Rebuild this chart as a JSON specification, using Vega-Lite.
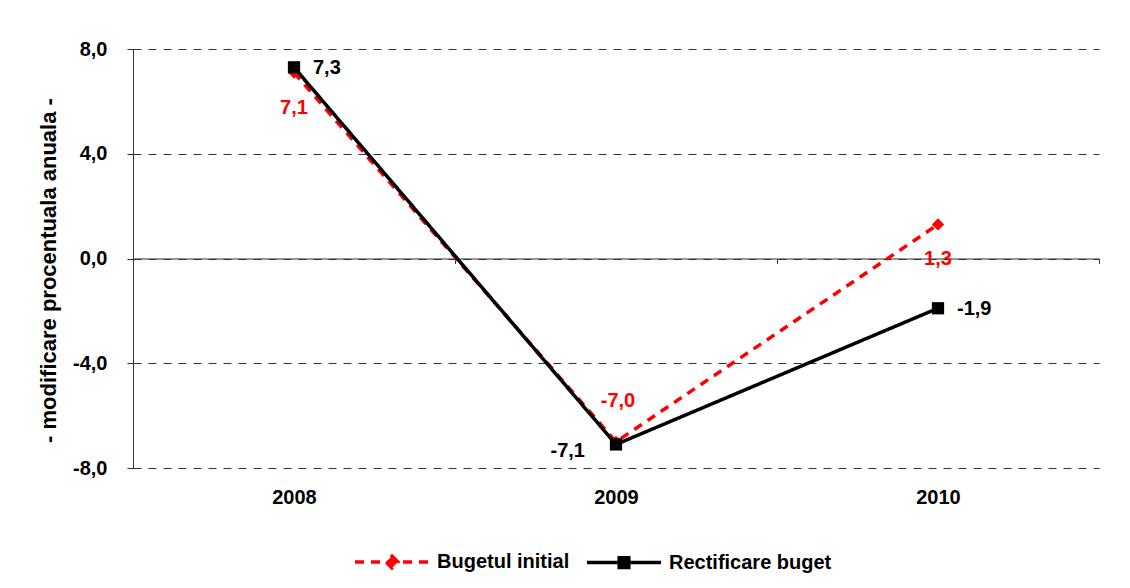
{
  "$schema": "https://vega.github.io/schema/vega-lite/v6.json",
  "autosize": "none",
  "width": 966,
  "height": 419,
  "padding": {"left": 133, "top": 49, "right": 31, "bottom": 120},
  "background": "white",
  "config": {
    "view": {"stroke": null},
    "font": "Liberation Sans",
    "locale": {"number": {"decimal": ",", "thousands": ".", "grouping": [3], "currency": ["", ""], "minus": "-"}},
    "axis": {"labelFont": "Liberation Sans", "titleFont": "Liberation Sans", "labelFontWeight": "bold", "titleFontWeight": "bold", "labelColor": "#000", "titleColor": "#000"}
  },
  "data": {
    "values": [
      {"year": "2008", "series": "Bugetul initial", "value": 7.1},
      {"year": "2009", "series": "Bugetul initial", "value": -7.0},
      {"year": "2010", "series": "Bugetul initial", "value": 1.3},
      {"year": "2008", "series": "Rectificare buget", "value": 7.3},
      {"year": "2009", "series": "Rectificare buget", "value": -7.1},
      {"year": "2010", "series": "Rectificare buget", "value": -1.9}
    ]
  },
  "encoding": {
    "x": {
      "field": "year", "type": "nominal", "title": null,
      "scale": {"type": "band", "paddingInner": 0, "paddingOuter": 0},
      "axis": {"orient": "bottom", "offset": -209.5, "labelAngle": 0, "labelFontSize": 20, "labelPadding": 224, "tickBand": "extent", "tickSize": 5, "tickColor": "#333", "domainColor": "#333", "domainWidth": 1.2, "grid": false}
    },
    "y": {
      "field": "value", "type": "quantitative",
      "title": "- modificare procentuala anuala -",
      "scale": {"domain": [-8, 8], "nice": false, "zero": false},
      "axis": {"values": [-8, -4, 0, 4, 8], "format": ".1f", "labelFontSize": 20, "labelPadding": 20, "tickSize": 6, "tickColor": "#333", "domainColor": "#333", "grid": true, "gridDash": [8, 7], "gridColor": "#333", "gridWidth": 1, "titleFont": "Liberation Sans", "titleFontSize": 22, "titlePadding": 12, "titleY": 221, "titleAlign": "center"}
    }
  },
  "layer": [
    {
      "mark": {"type": "line", "strokeWidth": 3.5},
      "encoding": {
        "color": {
          "field": "series", "type": "nominal",
          "scale": {"domain": ["Bugetul initial", "Rectificare buget"], "range": ["#ff0000", "#000000"]},
          "legend": {
            "title": null, "orient": "none", "direction": "horizontal", "legendX": 220, "legendY": 474,
            "padding": 0, "symbolSize": 5476, "symbolStrokeWidth": 3.5, "labelFont": "Liberation Sans", "labelFontWeight": "bold", "labelFontSize": 20, "labelColor": "#000", "labelOffset": 6, "columnPadding": 10, "labelLimit": 400,
            "encode": {"symbols": {"update": {
              "shape": {"signal": "datum.value === 'Bugetul initial' ? 'M-1,0H1M0,-0.16L0.16,0L0,0.16L-0.16,0Z' : 'M-1,0H1M-0.13,-0.13H0.13V0.13H-0.13Z'"},
              "fill": {"signal": "datum.value === 'Bugetul initial' ? '#ff0000' : '#000000'"}
            }}}
          }
        },
        "strokeDash": {
          "field": "series", "type": "nominal",
          "scale": {"domain": ["Bugetul initial", "Rectificare buget"], "range": [[9, 7], [1, 0]]},
          "legend": null
        }
      }
    },
    {
      "transform": [{"filter": "datum.series === 'Bugetul initial'"}],
      "mark": {"type": "point", "shape": "diamond", "filled": true, "size": 150, "color": "#ff0000", "opacity": 1}
    },
    {
      "transform": [{"filter": "datum.series === 'Rectificare buget'"}],
      "mark": {"type": "point", "shape": "square", "filled": true, "size": 150, "color": "#000000", "opacity": 1}
    },
    {
      "transform": [{"filter": "datum.series === 'Rectificare buget' && datum.year !== '2009'"}],
      "mark": {"type": "text", "align": "left", "baseline": "middle", "dx": 19, "dy": 1, "fontSize": 20, "fontWeight": "bold", "color": "#000"},
      "encoding": {"text": {"field": "value", "type": "quantitative", "format": ".1f"}}
    },
    {
      "transform": [{"filter": "datum.series === 'Rectificare buget' && datum.year === '2009'"}],
      "mark": {"type": "text", "align": "right", "baseline": "middle", "dx": -31, "dy": 7, "fontSize": 20, "fontWeight": "bold", "color": "#000"},
      "encoding": {"text": {"field": "value", "type": "quantitative", "format": ".1f"}}
    },
    {
      "transform": [{"filter": "datum.series === 'Bugetul initial' && datum.year !== '2009'"}],
      "mark": {"type": "text", "align": "center", "baseline": "middle", "dx": 0, "dy": 35, "fontSize": 20, "fontWeight": "bold", "color": "#ff0000"},
      "encoding": {"text": {"field": "value", "type": "quantitative", "format": ".1f"}}
    },
    {
      "transform": [{"filter": "datum.series === 'Bugetul initial' && datum.year === '2009'"}],
      "mark": {"type": "text", "align": "center", "baseline": "middle", "dx": 2, "dy": -41, "fontSize": 20, "fontWeight": "bold", "color": "#ff0000"},
      "encoding": {"text": {"field": "value", "type": "quantitative", "format": ".1f"}}
    }
  ]
}
